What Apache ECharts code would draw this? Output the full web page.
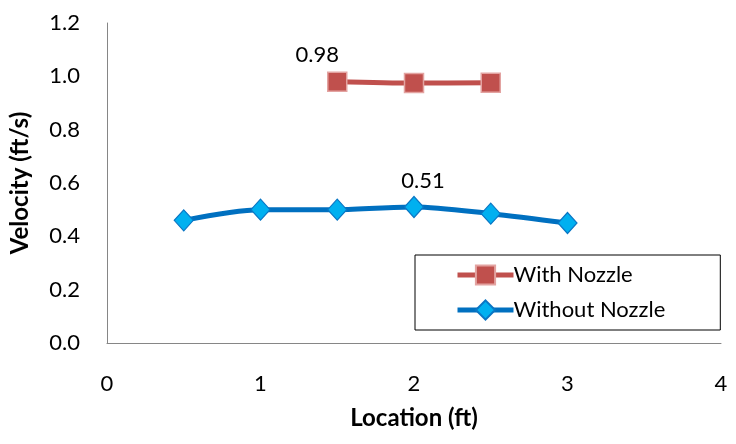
<!DOCTYPE html>
<html>
<head>
<meta charset="utf-8">
<script src="https://cdn.jsdelivr.net/npm/echarts@6/dist/echarts.min.js"></script>
<style>
  html, body { margin: 0; padding: 0; background: #fff; }
  #chart { width: 736px; height: 444px; }
</style>
</head>
<body>
<div id="chart"></div>
<script>
// Velocity measured along the channel, with and without the nozzle
const withNozzleX = [1.5, 2, 2.5];
const withNozzleY = [0.98, 0.975, 0.976];
const withoutNozzleX = [0.5, 1, 1.5, 2, 2.5, 3];
const withoutNozzleY = [0.46, 0.50, 0.50, 0.51, 0.485, 0.45];

const FONT = 'Lato, "Open Sans", sans-serif';

const pairs = (xs, ys) => xs.map((x, i) => [x, ys[i]]);

const chart = echarts.init(document.getElementById('chart'), null, { renderer: 'canvas' });
chart.setOption({
  animation: false,
  backgroundColor: '#ffffff',
  textStyle: { fontFamily: FONT },
  grid: { left: 106, right: 15, top: 23, bottom: 101, containLabel: false },
  xAxis: {
    type: 'value', min: 0, max: 4, interval: 1,
    name: 'Location (ft)', nameLocation: 'middle', nameGap: 63,
    nameTextStyle: { fontFamily: FONT, fontSize: 24, fontWeight: 'bold', color: '#000' },
    axisLine: { show: true, lineStyle: { color: '#868686', width: 1 } },
    axisTick: { show: false },
    splitLine: { show: false },
    axisLabel: { margin: 30, fontSize: 22, color: '#000', fontFamily: FONT }
  },
  yAxis: {
    type: 'value', min: 0, max: 1.2, interval: 0.2,
    name: 'Velocity (ft/s)', nameLocation: 'middle', nameGap: 75, nameRotate: 90,
    nameTextStyle: { fontFamily: FONT, fontSize: 24, fontWeight: 'bold', color: '#000' },
    axisLine: { show: true, lineStyle: { color: '#868686', width: 1 } },
    axisTick: { show: false },
    splitLine: { show: false },
    axisLabel: { margin: 27, fontSize: 22, color: '#000', fontFamily: FONT,
      formatter: v => v.toFixed(1) }
  },
  legend: {
    orient: 'vertical',
    left: 415, top: 255,
    padding: [9, 55, 9, 40],
    itemGap: 13,
    itemWidth: 56, itemHeight: 24,
    borderColor: '#000', borderWidth: 1,
    textStyle: { fontFamily: FONT, fontSize: 22, color: '#000', padding: [0, 0, 0, -5] },
    data: [
      { name: 'With Nozzle', lineStyle: { width: 5 } },
      { name: 'Without Nozzle', lineStyle: { width: 5 } }
    ]
  },
  series: [
    {
      name: 'With Nozzle', type: 'line', smooth: 0.3,
      data: pairs(withNozzleX, withNozzleY),
      symbol: 'rect', symbolSize: 19,
      lineStyle: { color: '#C0504D', width: 5 },
      itemStyle: { color: '#C0504D', borderColor: '#E3A3A1', borderWidth: 1.5 },
      label: {
        show: true, position: 'top', distance: 6, offset: [-20, 0],
        fontSize: 22, color: '#000', fontFamily: FONT,
        formatter: p => p.dataIndex === 0 ? p.value[1].toFixed(2) : ''
      },
      z: 3
    },
    {
      name: 'Without Nozzle', type: 'line', smooth: 0.3,
      data: pairs(withoutNozzleX, withoutNozzleY),
      symbol: 'diamond', symbolSize: [19, 21],
      lineStyle: { color: '#0070C0', width: 5 },
      itemStyle: { color: '#00B0F0', borderColor: '#0A76C4', borderWidth: 1.2 },
      label: {
        show: true, position: 'top', distance: 4, offset: [9, 0],
        fontSize: 22, color: '#000', fontFamily: FONT,
        formatter: p => p.dataIndex === 3 ? p.value[1].toFixed(2) : ''
      },
      z: 2
    }
  ]
});
</script>
</body>
</html>
